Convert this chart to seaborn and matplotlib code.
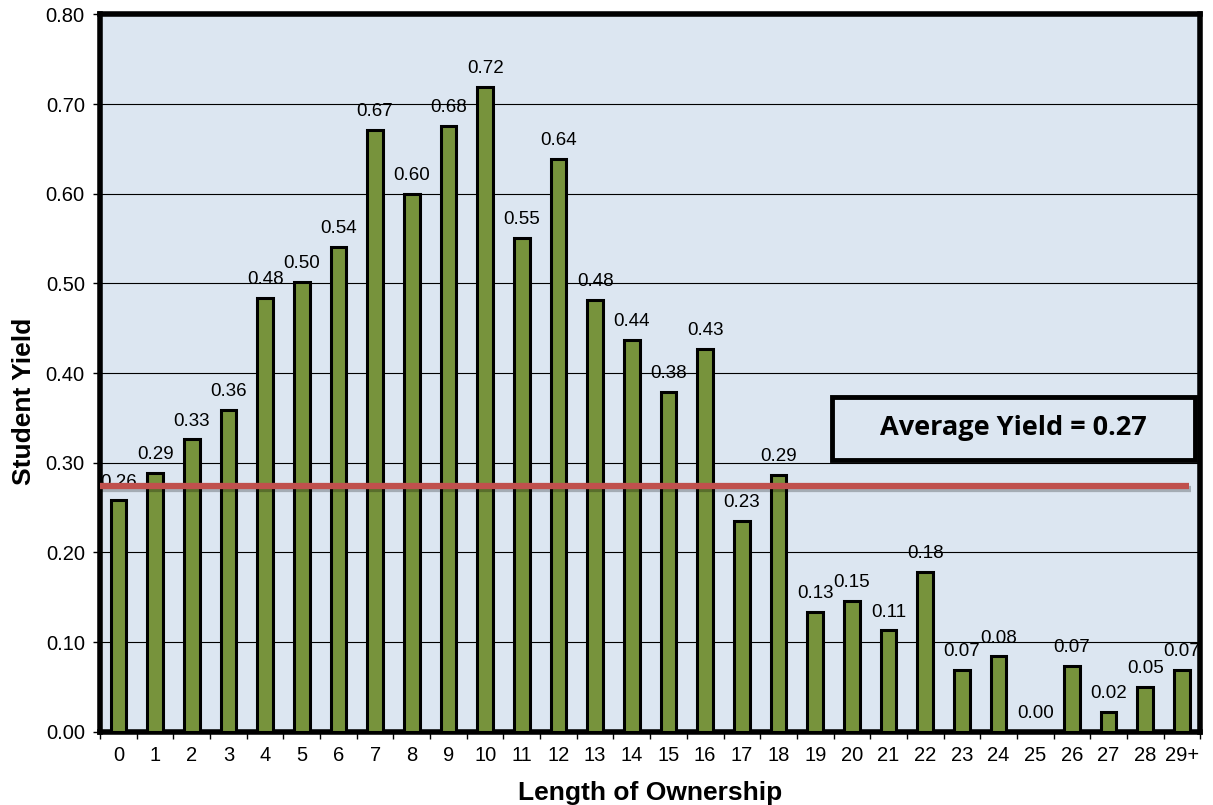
import matplotlib
matplotlib.use("Agg")
import matplotlib.pyplot as plt
import matplotlib.patheffects as pe
from matplotlib.patches import Rectangle
import numpy as np
import pandas as pd
import seaborn as sns

years = ['0', '1', '2', '3', '4', '5', '6', '7', '8', '9', '10', '11', '12', '13', '14',
         '15', '16', '17', '18', '19', '20', '21', '22', '23', '24', '25', '26', '27', '28', '29+']
yields = [0.258, 0.289, 0.326, 0.359, 0.484, 0.502, 0.541, 0.671, 0.600, 0.676, 0.719, 0.551,
          0.639, 0.482, 0.437, 0.379, 0.427, 0.235, 0.286, 0.134, 0.146, 0.113, 0.178, 0.069,
          0.084, 0.000, 0.073, 0.022, 0.050, 0.069]
avg_yield = 0.274
avg_label = 'Average Yield = 0.27'

df = pd.DataFrame({'Length of Ownership': years, 'Student Yield': yields})

sns.set_style('white')
plt.rcParams['font.family'] = ['Liberation Sans', 'DejaVu Sans']
plt.rcParams['text.color'] = 'black'
plt.rcParams['axes.labelcolor'] = 'black'
plt.rcParams['xtick.color'] = 'black'
plt.rcParams['ytick.color'] = 'black'

fig = plt.figure(figsize=(12.13, 8.05), dpi=100)
ax = fig.add_axes([0.0825, 0.091, 0.907, 0.891])
ax.set_facecolor('#DCE6F1')

sns.barplot(x='Length of Ownership', y='Student Yield', data=df, order=years,
            color='#77933C', edgecolor='black', linewidth=2.2, width=0.43,
            saturation=1, ax=ax, zorder=3)

ax.set_ylim(0, 0.8)
ax.set_xlim(-0.5, len(years) - 0.5)
ticks = np.arange(0, 0.81, 0.1)
ax.set_yticks(ticks)
ax.set_yticklabels([f'{v:.2f}' for v in ticks], fontsize=14.5)
ax.set_xticks(range(len(years)))
ax.set_xticklabels(years, fontsize=14.5)
ax.yaxis.grid(True, color='black', linewidth=0.8, zorder=1)
ax.set_axisbelow(True)
ax.tick_params(axis='y', direction='out', length=5, width=1, left=True, color='black', pad=6)
ax.set_xticks(np.arange(-0.5, len(years), 1), minor=True)
ax.tick_params(axis='x', which='major', length=0, pad=10)
ax.tick_params(axis='x', which='minor', direction='out', length=5, width=1,
               bottom=True, color='black')

for s in ax.spines.values():
    s.set_visible(True)
    s.set_color('black')
    s.set_linewidth(4)

ax.set_xlabel('Length of Ownership', fontsize=19, fontweight='bold', labelpad=12)
ax.set_ylabel('Student Yield', fontsize=19, fontweight='bold')
ax.yaxis.set_label_coords(-0.058, 0.46)

for i, v in enumerate(yields):
    ax.text(i, v + 0.011, f'{v:.2f}', ha='center', va='bottom', fontsize=13.5, zorder=4)

ax.plot([-0.55, 29.2], [avg_yield, avg_yield], color='#C0504D', linewidth=4.5, zorder=5,
        solid_capstyle='butt',
        path_effects=[pe.SimpleLineShadow(offset=(1.5, -2), alpha=0.25), pe.Normal()])

# annotation box
ax.add_patch(Rectangle((0.665, 0.379), 0.33, 0.088, transform=ax.transAxes,
                       facecolor='#DCE6F1', edgecolor='black', linewidth=3.5, zorder=6))
ax.text(0.83, 0.423, avg_label, transform=ax.transAxes, ha='center', va='center',
        fontsize=19.5, fontweight='bold', family=['Open Sans', 'DejaVu Sans'], zorder=7)

fig.savefig('out.png', dpi=100)
